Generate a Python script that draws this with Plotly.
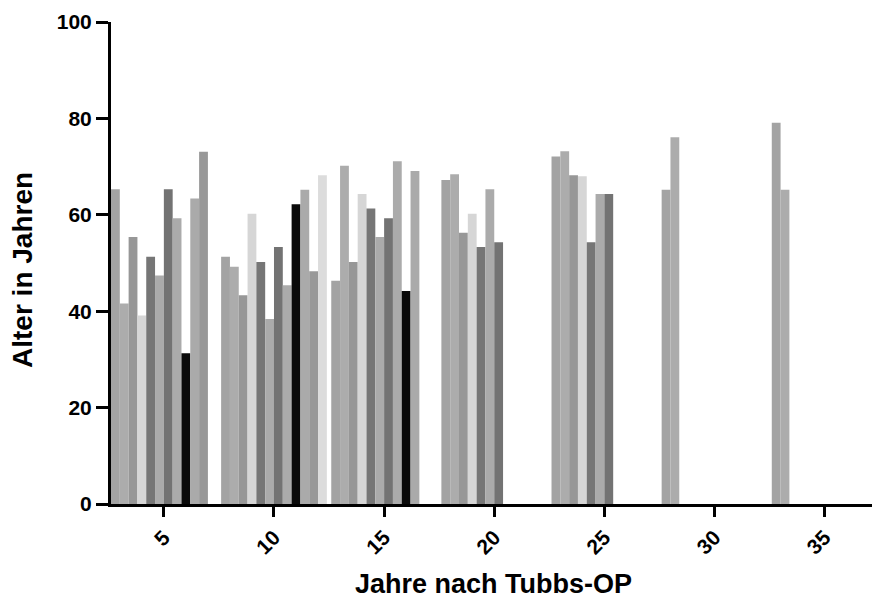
import plotly.graph_objects as go

# Groups on the x axis (years after Tubbs surgery)
years = [5, 10, 15, 20, 25, 30, 35]

# Ages (years) per data set, one value per group (None = no bar)
s01 = [65.3, 51.3, 46.3, 67.2, 72.1, 65.2, 79.1]
s02 = [41.6, 49.2, 70.2, 68.4, 73.2, 76.1, 65.2]
s03 = [55.4, 43.3, 50.2, 56.3, 68.2, None, None]
s04 = [39.1, 60.2, 64.3, 60.2, 68.0, None, None]
s05 = [51.3, 50.2, 61.3, 53.3, 54.3, None, None]
s06 = [47.4, 38.4, 55.4, 65.3, 64.3, None, None]
s07 = [65.3, 53.3, 59.3, 54.3, 64.3, None, None]
s08 = [59.3, 45.4, 71.1, None, None, None, None]
s09 = [31.3, 62.2, 44.2, None, None, None, None]
s10 = [63.4, 65.2, 69.1, None, None, None, None]
s11 = [73.1, 48.3, None, None, None, None, None]
s12 = [None, 68.2, None, None, None, None, None]

series = [s01, s02, s03, s04, s05, s06, s07, s08, s09, s10, s11, s12]
colors = ["#a3a3a3", "#acacac", "#979797", "#d6d6d6", "#767676", "#ababab",
          "#737373", "#ababab", "#0a0a0a", "#aaaaaa", "#989898", "#dcdcdc"]

x_tick_vals = [5, 10, 15, 20, 25, 30, 35]
y_tick_vals = [0, 20, 40, 60, 80, 100]

fig = go.Figure()
for vals, col in zip(series, colors):
    fig.add_trace(go.Bar(x=years, y=vals, marker=dict(color=col, line=dict(width=0)),
                         showlegend=False))

font_family = "Liberation Sans, Arial, sans-serif"

fig.update_layout(
    width=872, height=605,
    margin=dict(l=111, r=0, t=22, b=101),
    paper_bgcolor="white", plot_bgcolor="white",
    barmode="group", bargap=0.04, bargroupgap=0,
    font=dict(family=font_family, color="#000"),
    xaxis=dict(range=[2.6, 37.15], tickvals=x_tick_vals, ticks="outside", ticklen=10,
               tickwidth=3, tickcolor="#000", showline=True, linewidth=3, linecolor="#000",
               showgrid=False, zeroline=False, tickangle=-45,
               tickfont=dict(size=21, family=font_family, weight="bold", color="#000")),
    yaxis=dict(range=[0, 100], tickvals=y_tick_vals, ticks="outside", ticklen=12,
               tickwidth=3, tickcolor="#000", showline=True, linewidth=3, linecolor="#000",
               showgrid=False, zeroline=False,
               tickfont=dict(size=21, family=font_family, weight="bold", color="#000")),
    annotations=[
        dict(text="Jahre nach Tubbs-OP", xref="paper", yref="paper", x=0.503, y=-0.165,
             xanchor="center", yanchor="middle", showarrow=False,
             font=dict(size=27, family=font_family, weight="bold", color="#000")),
        dict(text="Alter in Jahren", xref="paper", yref="paper", x=-0.116, y=0.485,
             xanchor="center", yanchor="middle", textangle=-90, showarrow=False,
             font=dict(size=28, family=font_family, weight="bold", color="#000")),
    ],
)

fig.write_html("out.html")
